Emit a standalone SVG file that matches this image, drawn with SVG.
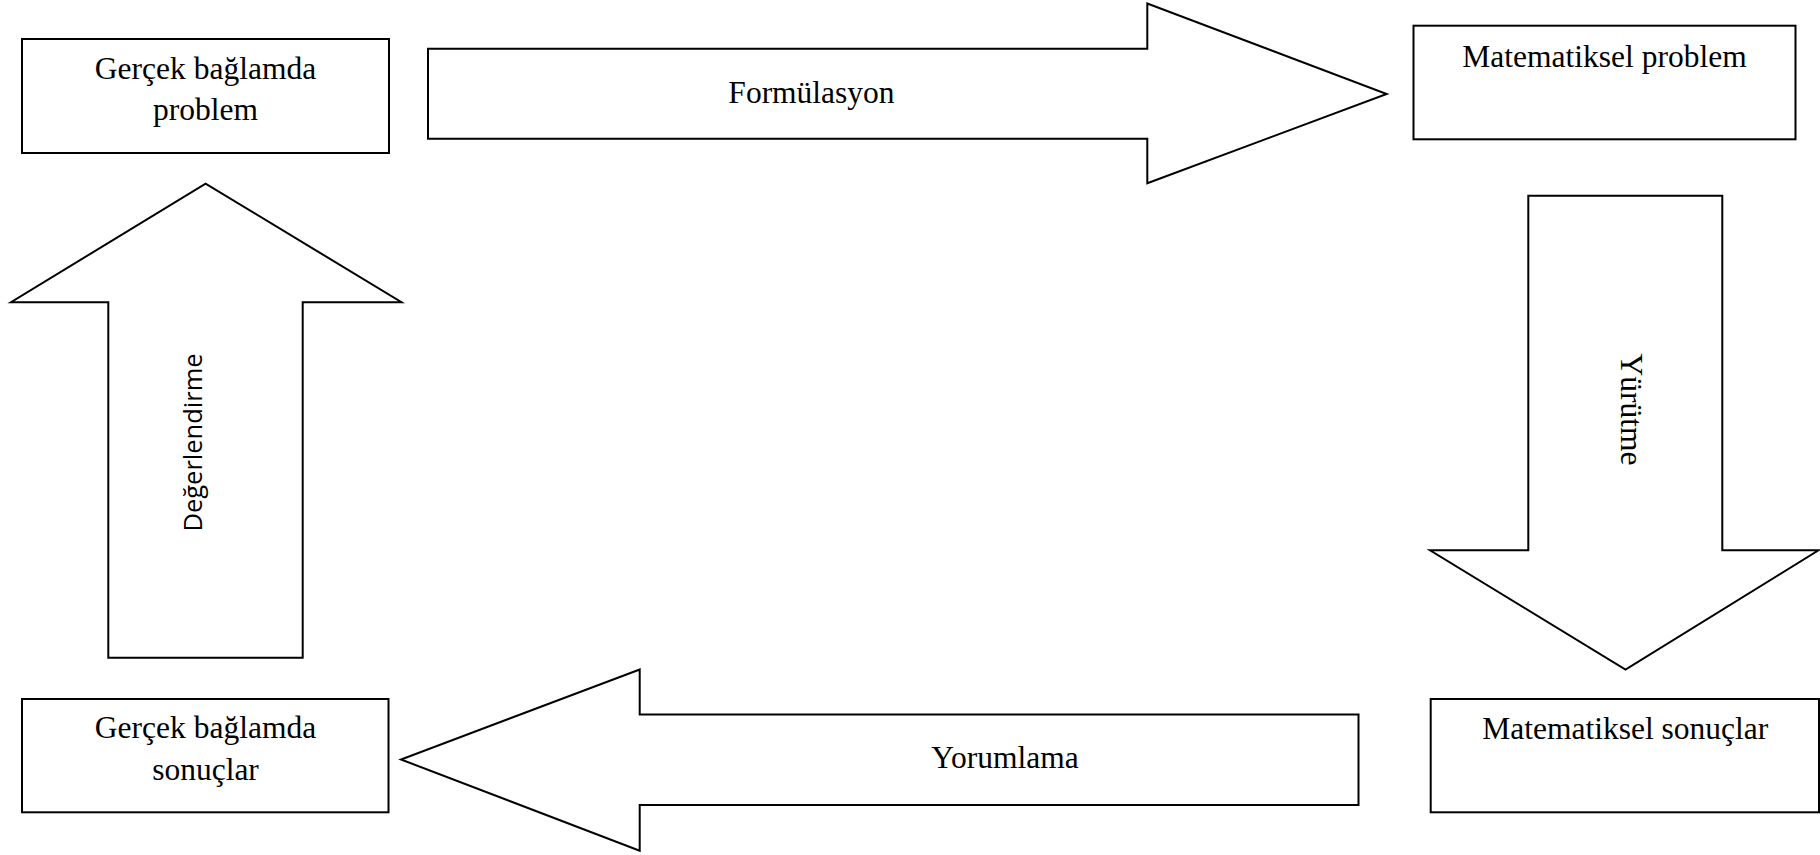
<svg xmlns="http://www.w3.org/2000/svg" width="1820" height="855" viewBox="0 0 1820 855">
  <style>
    .box { fill: #ffffff; stroke: #000000; stroke-width: 2; }
    .arrow { fill: #ffffff; stroke: #000000; stroke-width: 2; stroke-linejoin: miter; }
    .serif { font-family: "Liberation Serif", "Times New Roman", serif; font-size: 31.5px; fill: #000000; }
    .sans { font-family: "Open Sans", "DejaVu Sans", sans-serif; font-size: 25.5px; fill: #000000; }
  </style>
  <rect x="0" y="0" width="1820" height="855" fill="#ffffff"/>

  <!-- block arrows between the stages -->
  <g id="connectors">
    <g id="arrow-formulasyon">
      <polygon class="arrow" points="428,48.7 1147.3,48.7 1147.3,3.5 1386.7,94 1147.3,183.3 1147.3,138.7 428,138.7"/>
      <text class="serif" x="811.5" y="103.3" text-anchor="middle">Formülasyon</text>
    </g>
    <g id="arrow-yurutme">
      <polygon class="arrow" points="1528.3,195.7 1722.3,195.7 1722.3,550.3 1818.5,550.3 1625.5,669.5 1430,550.3 1528.3,550.3"/>
      <text class="serif" transform="translate(1620.5,409.5) rotate(90)" text-anchor="middle">Yürütme</text>
    </g>
    <g id="arrow-yorumlama">
      <polygon class="arrow" points="1358.5,714.5 639.7,714.5 639.7,669.5 401,759.5 639.7,850.7 639.7,805 1358.5,805"/>
      <text class="serif" x="1005" y="768.3" text-anchor="middle">Yorumlama</text>
    </g>
    <g id="arrow-degerlendirme">
      <polygon class="arrow" points="108.3,657.7 108.3,302.2 11,302.2 205.6,183.6 401.5,302.2 302.7,302.2 302.7,657.7"/>
      <text class="sans" transform="translate(202,442.5) rotate(-90)" text-anchor="middle">Değerlendirme</text>
    </g>
  </g>

  <!-- stage boxes -->
  <g id="node-gercek-problem">
    <rect class="box" x="22" y="39" width="367" height="114"/>
    <text class="serif" x="205.5" y="78.5" text-anchor="middle">Gerçek bağlamda</text>
    <text class="serif" x="205.5" y="120" text-anchor="middle">problem</text>
  </g>
  <g id="node-matematiksel-problem">
    <rect class="box" x="1413.5" y="25.7" width="382" height="113.6"/>
    <text class="serif" x="1604.5" y="66.7" text-anchor="middle">Matematiksel problem</text>
  </g>
  <g id="node-matematiksel-sonuclar">
    <rect class="box" x="1430.7" y="699" width="388.3" height="113.3"/>
    <text class="serif" x="1625.3" y="739.3" text-anchor="middle">Matematiksel sonuçlar</text>
  </g>
  <g id="node-gercek-sonuclar">
    <rect class="box" x="22" y="699" width="366.5" height="113.3"/>
    <text class="serif" x="205.5" y="738.3" text-anchor="middle">Gerçek bağlamda</text>
    <text class="serif" x="205.5" y="780" text-anchor="middle">sonuçlar</text>
  </g>
</svg>
